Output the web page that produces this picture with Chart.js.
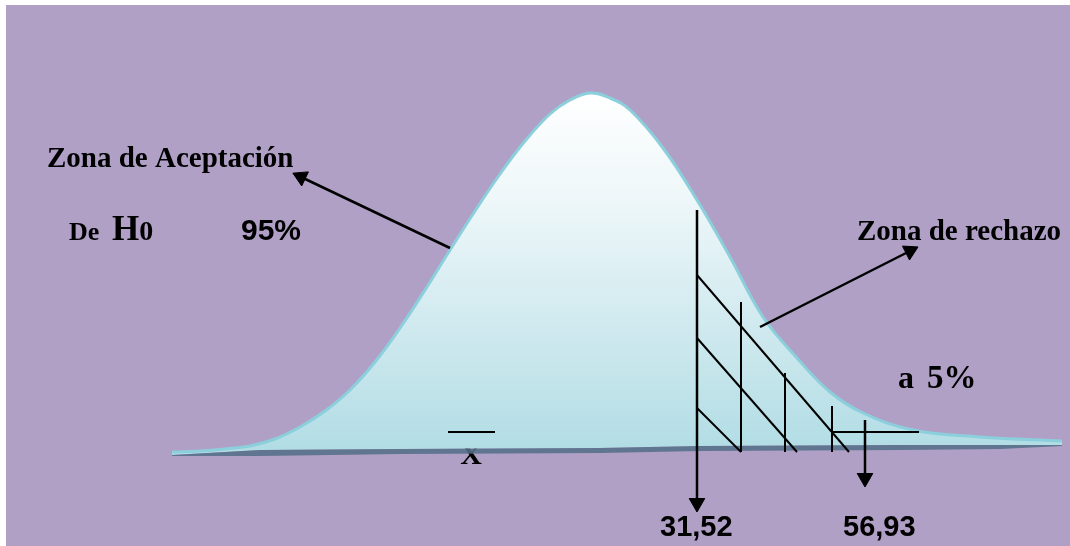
<!DOCTYPE html>
<html>
<head>
<meta charset="utf-8">
<script src="https://cdn.jsdelivr.net/npm/chart.js@4/dist/chart.umd.min.js"></script>
<style>
    body { margin: 0; background: #ffffff; }
    canvas { display: block; }
</style>
</head>
<body>
<canvas id="normalChart" width="1070" height="546"></canvas>
<script>
// Bell curve (x = horizontal position, y = height above the bottom edge)
const curveX = [172, 200, 225, 250, 275, 300, 325, 350, 375, 400, 425, 450, 475, 500, 525, 550, 570, 590, 610, 630, 663, 697, 730, 763, 797, 830, 863, 913, 980, 1062];
const curveY = [94, 95, 97, 100, 107, 119, 135, 156, 184, 218, 256, 296, 335, 372, 405, 432, 446, 453, 448, 436, 398, 346, 289, 229, 188, 154, 133, 116, 109, 105];

// Shadow band under the curve
const bandX = [172, 260, 400, 600, 700, 900, 1000, 1062];
const bandTop = [91, 96, 97, 98, 100, 101, 101, 101];
const bandBottom = [90, 90, 92, 93, 95, 96, 97, 100];

// Hatching of the rejection zone: [x1, y1, x2, y2]
const hatchLines = [
    [741, 244, 741, 94],
    [785, 173, 785, 94],
    [832, 140, 832, 94],
    [833, 114, 919, 114],
    [697, 138, 741, 94],
    [697, 208, 797, 94],
    [697, 271, 849, 94],
    [448, 114, 495, 114], // bar over the x
];

// Arrows: [x1, y1, x2, y2, head rotation]
const arrows = [
    [697, 336, 697, 43, 180],
    [865, 126, 865, 68, 180],
    [450, 298, 301, 369, -64.5],
    [760, 219, 910, 295, 63.1],
];

const criticalValues = ["31,52", "56,93"];

const serif = "'Liberation Serif', 'Times New Roman', serif";
const sans = "'Liberation Sans', Arial, sans-serif";

const labels = [
    { text: "Zona de Aceptación", x: 47, y: 379, font: "bold 29px " + serif },
    { text: "95%", x: 241, y: 306, font: "bold 30px " + sans },
    { text: "Zona de rechazo", x: 857, y: 306, font: "bold 29px " + serif },
    { text: "a", x: 898, y: 158, font: "bold 32px " + serif },
    { text: "5%", x: 927, y: 158, font: "bold 33px " + serif },
    { text: criticalValues[0], x: 660, y: 10, font: "bold 29px " + sans },
    { text: criticalValues[1], x: 843, y: 10, font: "bold 29px " + sans },
];

const toPoints = (xs, ys) => xs.map((x, i) => ({ x: x, y: ys[i] }));

const datasets = [
    {
        data: toPoints(curveX, curveY),
        borderColor: "#8ccfdc",
        borderWidth: 3,
        tension: 0.4,
        fill: "+1",
        backgroundColor: (context) => {
            const area = context.chart.chartArea;
            if (!area) return "#c8e7ec";
            const y = context.chart.scales.y;
            const g = context.chart.ctx.createLinearGradient(0, y.getPixelForValue(453), 0, y.getPixelForValue(100));
            g.addColorStop(0, "#ffffff");
            g.addColorStop(0.3, "#eef7f9");
            g.addColorStop(1, "#b3dde5");
            return g;
        },
        order: 3,
    },
    {
        data: toPoints(bandX, bandTop),
        borderWidth: 0,
        fill: "+1",
        backgroundColor: "rgba(84, 110, 136, 0.88)",
        order: 2,
    },
    {
        data: toPoints(bandX, bandBottom),
        borderWidth: 0,
        fill: false,
        order: 4,
    },
];

hatchLines.forEach(h => {
    datasets.push({
        data: [{ x: h[0], y: h[1] }, { x: h[2], y: h[3] }],
        borderColor: "#000000",
        borderWidth: 2,
        fill: false,
        order: 0,
    });
});

arrows.forEach(a => {
    datasets.push({
        data: [{ x: a[0], y: a[1] }, { x: a[2], y: a[3] }],
        borderColor: "#000000",
        borderWidth: 2.5,
        fill: false,
        pointRadius: [0, 9],
        pointStyle: "triangle",
        rotation: [0, a[4]],
        pointBackgroundColor: "#000000",
        pointBorderColor: "#000000",
        pointBorderWidth: 1,
        order: 0,
    });
});

const backdrop = {
    id: "backdrop",
    beforeDraw(chart) {
        const { ctx, chartArea } = chart;
        ctx.save();
        ctx.fillStyle = "#b0a0c6";
        ctx.fillRect(chartArea.left, chartArea.top, chartArea.right - chartArea.left, chartArea.bottom - chartArea.top);
        ctx.restore();
    },
    beforeDatasetsDraw(chart) {
        // the x of x-bar sits under the curve and the band
        const { ctx, scales } = chart;
        ctx.save();
        ctx.fillStyle = "#000000";
        ctx.font = "bold 30px " + serif;
        ctx.textAlign = "center";
        ctx.textBaseline = "alphabetic";
        ctx.fillText("X", scales.x.getPixelForValue(471), scales.y.getPixelForValue(82));
        ctx.restore();
    },
    afterDatasetsDraw(chart) {
        const { ctx, scales } = chart;
        ctx.save();
        ctx.fillStyle = "#000000";
        ctx.textBaseline = "alphabetic";
        labels.forEach(l => {
            ctx.font = l.font;
            ctx.fillText(l.text, scales.x.getPixelForValue(l.x), scales.y.getPixelForValue(l.y));
        });
        // "De H0" with mixed sizes
        let px = scales.x.getPixelForValue(69);
        const py = scales.y.getPixelForValue(306);
        ctx.font = "bold 26px " + serif;
        ctx.fillText("De", px, py);
        px = scales.x.getPixelForValue(112);
        ctx.font = "bold 35px " + serif;
        ctx.fillText("H", px, py);
        px += ctx.measureText("H").width;
        ctx.font = "bold 28px " + serif;
        ctx.fillText("0", px, py);
        ctx.restore();
    },
};

new Chart(document.getElementById("normalChart"), {
    type: "scatter",
    data: { datasets: datasets },
    options: {
        responsive: false,
        animation: false,
        devicePixelRatio: 1,
        showLine: true,
        layout: { autoPadding: false, padding: { left: 6, top: 5, right: 0, bottom: 0 } },
        elements: {
            point: { radius: 0, hoverRadius: 0 },
            line: { tension: 0 },
        },
        datasets: { scatter: { clip: false } },
        scales: {
            x: { type: "linear", min: 6, max: 1070, display: false },
            y: { type: "linear", min: 0, max: 541, display: false },
        },
        plugins: {
            legend: { display: false },
            tooltip: { enabled: false },
        },
    },
    plugins: [backdrop],
});
</script>
</body>
</html>
